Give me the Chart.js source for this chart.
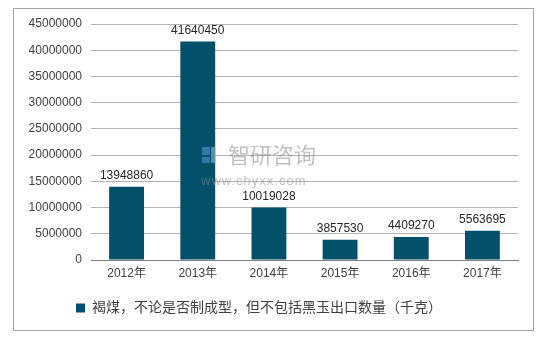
<!DOCTYPE html>
<html>
<head>
<meta charset="utf-8">
<script src="https://cdn.jsdelivr.net/npm/chart.js@4/dist/chart.umd.min.js"></script>
<style>
  html, body { margin: 0; padding: 0; background: #fff; }
  #wrap { width: 543px; height: 339px; position: relative; }
</style>
</head>
<body>
<div id="wrap"><canvas id="chart" width="543" height="339"></canvas></div>
<script>
// data
const years = ['2012年', '2013年', '2014年', '2015年', '2016年', '2017年'];
const exportQty = [13948860, 41640450, 10019028, 3857530, 4409270, 5563695];
const seriesName = '褐煤，不论是否制成型，但不包括黑玉出口数量（千克）';
const yMax = 45000000;
const yStep = 5000000;

const barColor = '#03506b';
const fontFamily = '"Liberation Sans", Arial, "Noto Sans CJK SC", sans-serif';

// outer frame
const framePlugin = {
    id: 'frame',
    beforeDraw(chart) {
        const ctx = chart.ctx;
        ctx.save();
        ctx.fillStyle = '#fff';
        ctx.fillRect(0, 0, chart.width, chart.height);
        ctx.strokeStyle = '#a6a6a6';
        ctx.lineWidth = 1;
        ctx.strokeRect(13.5, 8.5, 520, 322);
        ctx.restore();
    }
};

// value labels on top of bars
const valueLabels = {
    id: 'valueLabels',
    afterDatasetsDraw(chart) {
        const ctx = chart.ctx;
        const meta = chart.getDatasetMeta(0);
        ctx.save();
        ctx.font = '12px ' + fontFamily;
        ctx.fillStyle = '#262626';
        ctx.textAlign = 'center';
        ctx.textBaseline = 'bottom';
        meta.data.forEach((bar, i) => {
            ctx.fillText(String(exportQty[i]), bar.x, bar.y - 5);
        });
        ctx.restore();
    }
};

// faint watermark
const watermark = {
    id: 'watermark',
    afterDatasetsDraw(chart) {
        const ctx = chart.ctx;
        ctx.save();
        ctx.globalAlpha = 0.55;
        ctx.fillStyle = '#5b9bd5';
        ctx.fillRect(202, 147, 8, 8);
        ctx.fillRect(202, 157, 8, 6);
        ctx.fillStyle = '#9dc3e6';
        ctx.fillRect(211, 147, 5, 16);
        ctx.fillStyle = '#8c8c8c';
        ctx.font = '22px "Noto Sans CJK SC", sans-serif';
        ctx.textBaseline = 'middle';
        ctx.fillText('智研咨询', 228, 155);
        ctx.font = '13px ' + fontFamily;
        ctx.letterSpacing = '1px';
        ctx.fillText('www.chyxx.com', 201, 181);
        ctx.restore();
    }
};

new Chart(document.getElementById('chart'), {
    type: 'bar',
    data: {
        labels: years,
        datasets: [{
            label: seriesName,
            data: exportQty,
            backgroundColor: barColor,
            borderWidth: 0,
            barPercentage: 0.49,
            categoryPercentage: 1.0
        }]
    },
    options: {
        responsive: false,
        animation: false,
        layout: {
            padding: { left: 0, right: 25, top: 24, bottom: 14 }
        },
        scales: {
            x: {
                grid: { display: false, drawTicks: false },
                border: { display: true, color: '#7f7f7f', width: 1 },
                ticks: {
                    color: '#404040',
                    font: { size: 12, family: fontFamily },
                    padding: 6
                },
                afterFit(s) { s.height = 31; }
            },
            y: {
                min: 0,
                max: yMax,
                grid: { color: '#b3b3b3', drawTicks: false },
                border: { display: false },
                ticks: {
                    stepSize: yStep,
                    color: '#404040',
                    font: { size: 12, family: fontFamily },
                    padding: 9,
                    callback: v => String(v)
                },
                afterFit(s) { s.width = 91; }
            }
        },
        plugins: {
            legend: {
                position: 'bottom',
                align: 'center',
                labels: {
                    boxWidth: 9,
                    boxHeight: 9,
                    color: '#404040',
                    padding: 10,
                    font: { size: 14, family: fontFamily }
                }
            },
            tooltip: { enabled: false }
        }
    },
    plugins: [framePlugin, valueLabels, watermark]
});
</script>
</body>
</html>
